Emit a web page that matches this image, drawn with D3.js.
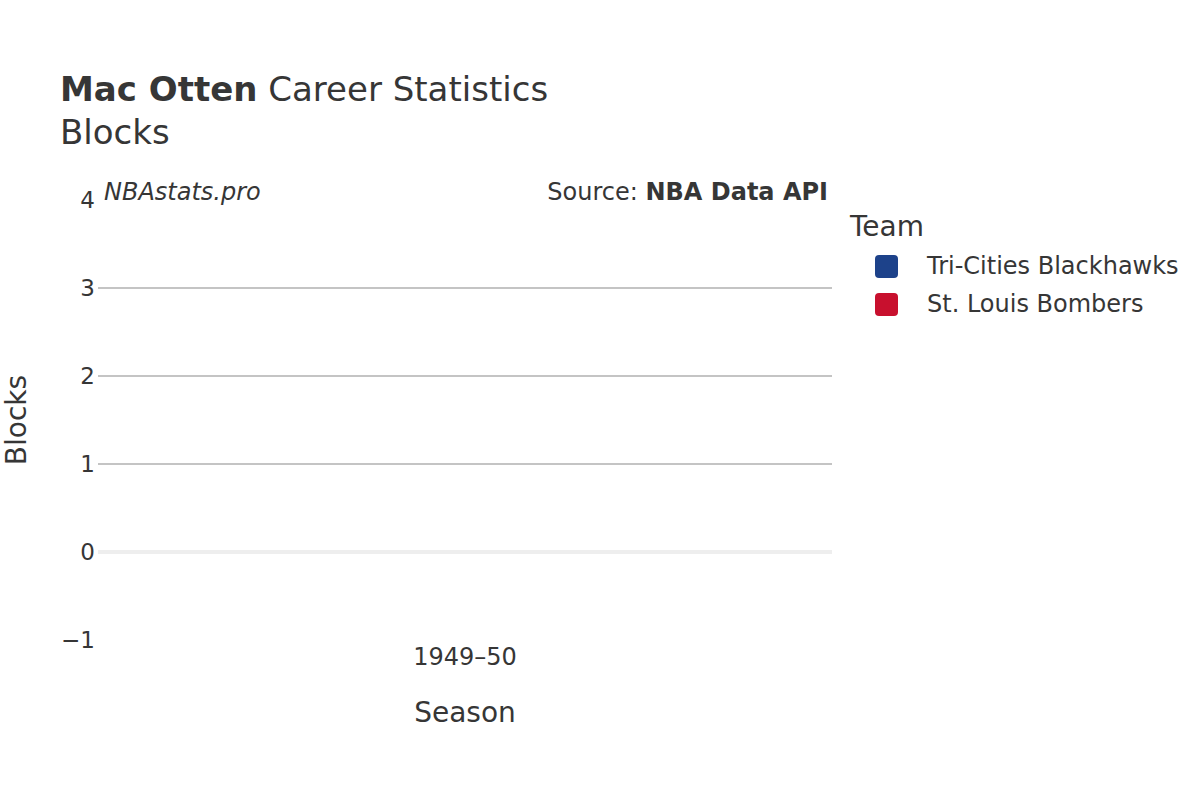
<!DOCTYPE html>
<html>
<head>
<meta charset="utf-8">
<script src="https://cdn.jsdelivr.net/npm/d3@7"></script>
<style>
  body { margin: 0; background: #fff; }
  text { font-family: "DejaVu Sans", sans-serif; fill: #363636; }
</style>
</head>
<body>
<svg width="1200" height="800"></svg>
<script>
// data
const seasons = ['1949–50'];
const teams = ['Tri-Cities Blackhawks', 'St. Louis Bombers'];
const teamColors = ['#1d428a', '#c8102e'];
// blocks were not recorded in 1949-50, so there is nothing to draw
const blocksTriCities = [null];
const blocksStLouis = [null];
const yTicks = [-1, 0, 1, 2, 3, 4];

const svg = d3.select('svg');
const margin = {left: 98, right: 368, top: 200, bottom: 160};
const width = 1200 - margin.left - margin.right;
const height = 800 - margin.top - margin.bottom;

const x = d3.scaleBand().domain(seasons).range([0, width]).padding(0.2);
const y = d3.scaleLinear().domain([-1, 4]).range([height, 0]);

const g = svg.append('g')
  .attr('transform', `translate(${margin.left}, ${margin.top})`);

// grid lines
g.append('g')
  .selectAll('line')
  .data(yTicks.filter(d => d !== 0 && d !== 4 && d !== -1))
  .join('line')
    .attr('x1', 0)
    .attr('x2', width)
    .attr('y1', d => y(d))
    .attr('y2', d => y(d))
    .attr('stroke', '#c4c4c4')
    .attr('stroke-width', 2);

// zero line
g.append('line')
  .attr('x1', 0)
  .attr('x2', width)
  .attr('y1', y(0))
  .attr('y2', y(0))
  .attr('stroke', '#eeeeee')
  .attr('stroke-width', 4);

// bars (none have values)
const series = [blocksTriCities, blocksStLouis];
const xSub = d3.scaleBand().domain(teams).range([0, x.bandwidth()]);
series.forEach((vals, i) => {
  g.append('g')
    .selectAll('rect')
    .data(seasons.map((s, j) => ({season: s, value: vals[j]})).filter(d => d.value != null))
    .join('rect')
      .attr('x', d => x(d.season) + xSub(teams[i]))
      .attr('width', xSub.bandwidth())
      .attr('y', d => y(Math.max(0, d.value)))
      .attr('height', d => Math.abs(y(d.value) - y(0)))
      .attr('fill', teamColors[i]);
});

// y axis
const yAxis = g.append('g')
  .call(d3.axisLeft(y).tickValues(yTicks).tickSize(0).tickPadding(3).tickFormat(d3.format('d')));
yAxis.select('.domain').remove();
yAxis.selectAll('text')
  .attr('font-size', 23)
  .style('font-family', '"DejaVu Sans", sans-serif')
  .attr('fill', '#363636')
  .text(d => d < 0 ? '\u2212' + Math.abs(d) : d);

// x axis
const xAxis = g.append('g')
  .attr('transform', `translate(0, ${height})`)
  .call(d3.axisBottom(x).tickSize(0).tickPadding(8));
xAxis.select('.domain').remove();
xAxis.selectAll('text')
  .attr('font-size', 24)
  .style('font-family', '"DejaVu Sans", sans-serif')
  .attr('fill', '#363636');

// titles
const title = svg.append('text')
  .attr('x', 60)
  .attr('y', 101)
  .attr('font-size', 34);
title.append('tspan').attr('font-weight', 'bold').text('Mac Otten');
title.append('tspan').text(' Career Statistics');

svg.append('text')
  .attr('x', 60)
  .attr('y', 144)
  .attr('font-size', 34)
  .text('Blocks');

svg.append('text')
  .attr('x', 104)
  .attr('y', 200)
  .attr('font-size', 24)
  .attr('font-style', 'italic')
  .text('NBAstats.pro');

const source = svg.append('text')
  .attr('x', 828)
  .attr('y', 200)
  .attr('font-size', 24)
  .attr('text-anchor', 'end');
source.append('tspan').text('Source: ');
source.append('tspan').attr('font-weight', 'bold').text('NBA Data API');

// axis titles
svg.append('text')
  .attr('transform', `translate(26, ${margin.top + height / 2}) rotate(-90)`)
  .attr('text-anchor', 'middle')
  .attr('font-size', 28)
  .text('Blocks');

svg.append('text')
  .attr('x', margin.left + width / 2)
  .attr('y', 722)
  .attr('text-anchor', 'middle')
  .attr('font-size', 28)
  .text('Season');

// legend
const legend = svg.append('g').attr('transform', 'translate(850, 0)');
legend.append('text')
  .attr('x', 0)
  .attr('y', 236)
  .attr('font-size', 28)
  .text('Team');

const items = legend.selectAll('g.item')
  .data(teams)
  .join('g')
    .attr('class', 'item')
    .attr('transform', (d, i) => `translate(0, ${266 + i * 38})`);
items.append('rect')
  .attr('x', 25)
  .attr('y', -11)
  .attr('width', 23)
  .attr('height', 23)
  .attr('rx', 4)
  .attr('fill', (d, i) => teamColors[i]);
items.append('text')
  .attr('x', 77)
  .attr('y', 8)
  .attr('font-size', 24)
  .text(d => d);
</script>
</body>
</html>
